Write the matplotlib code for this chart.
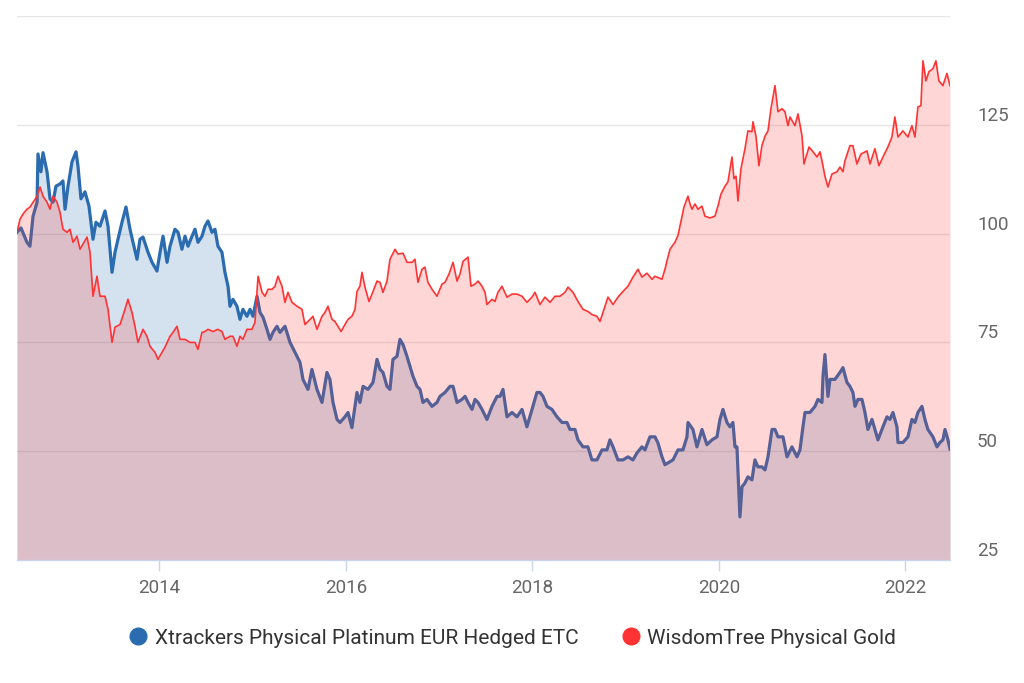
import matplotlib
matplotlib.use("Agg")
import matplotlib.pyplot as plt
from matplotlib.lines import Line2D
from matplotlib.transforms import ScaledTranslation, blended_transform_factory

plt.rcParams['font.family'] = ['Roboto', 'DejaVu Sans']

series_names = ["Xtrackers Physical Platinum EUR Hedged ETC", "WisdomTree Physical Gold"]

plat_dates = [2012.474, 2012.517, 2012.581, 2012.613, 2012.646, 2012.689, 2012.699, 2012.731, 2012.753, 2012.796,
              2012.828, 2012.860, 2012.892, 2012.935, 2012.967, 2012.989, 2013.021, 2013.064, 2013.107, 2013.128,
              2013.160, 2013.203, 2013.246, 2013.289, 2013.321, 2013.364, 2013.418, 2013.450, 2013.493, 2013.525,
              2013.557, 2013.600, 2013.643, 2013.686, 2013.718, 2013.761, 2013.793, 2013.825, 2013.879, 2013.922,
              2013.975, 2014.008, 2014.040, 2014.083, 2014.115, 2014.168, 2014.201, 2014.243, 2014.276, 2014.308,
              2014.351, 2014.383, 2014.415, 2014.458, 2014.490, 2014.522, 2014.565, 2014.597, 2014.629, 2014.672,
              2014.704, 2014.737, 2014.758, 2014.790, 2014.833, 2014.865, 2014.897, 2014.940, 2014.973, 2015.005,
              2015.048, 2015.080, 2015.112, 2015.155, 2015.187, 2015.219, 2015.262, 2015.294, 2015.348, 2015.402,
              2015.455, 2015.509, 2015.541, 2015.595, 2015.637, 2015.691, 2015.745, 2015.798, 2015.830, 2015.863,
              2015.906, 2015.938, 2015.991, 2016.024, 2016.066, 2016.120, 2016.152, 2016.185, 2016.238, 2016.292,
              2016.335, 2016.367, 2016.399, 2016.442, 2016.474, 2016.506, 2016.549, 2016.581, 2016.614, 2016.656,
              2016.689, 2016.721, 2016.764, 2016.796, 2016.828, 2016.871, 2016.925, 2016.978, 2017.010, 2017.064,
              2017.118, 2017.150, 2017.193, 2017.246, 2017.279, 2017.311, 2017.354, 2017.386, 2017.418, 2017.461,
              2017.514, 2017.568, 2017.622, 2017.654, 2017.686, 2017.729, 2017.783, 2017.836, 2017.890, 2017.943,
              2017.997, 2018.050, 2018.083, 2018.115, 2018.158, 2018.211, 2018.265, 2018.319, 2018.372, 2018.404,
              2018.458, 2018.490, 2018.544, 2018.597, 2018.640, 2018.694, 2018.748, 2018.801, 2018.833, 2018.866,
              2018.919, 2018.973, 2019.026, 2019.080, 2019.123, 2019.176, 2019.209, 2019.262, 2019.316, 2019.348,
              2019.391, 2019.423, 2019.477, 2019.509, 2019.563, 2019.616, 2019.659, 2019.670, 2019.723, 2019.766,
              2019.820, 2019.873, 2019.927, 2019.981, 2020.013, 2020.045, 2020.088, 2020.120, 2020.152, 2020.174,
              2020.195, 2020.227, 2020.249, 2020.281, 2020.313, 2020.356, 2020.388, 2020.420, 2020.463, 2020.496,
              2020.528, 2020.571, 2020.603, 2020.635, 2020.689, 2020.732, 2020.785, 2020.839, 2020.871, 2020.903,
              2020.925, 2020.978, 2021.032, 2021.064, 2021.107, 2021.118, 2021.139, 2021.171, 2021.193, 2021.246,
              2021.300, 2021.332, 2021.375, 2021.407, 2021.439, 2021.461, 2021.493, 2021.536, 2021.568, 2021.600,
              2021.643, 2021.675, 2021.707, 2021.761, 2021.804, 2021.836, 2021.868, 2021.911, 2021.922, 2021.975,
              2022.029, 2022.072, 2022.104, 2022.136, 2022.179, 2022.211, 2022.243, 2022.297, 2022.340, 2022.372,
              2022.404, 2022.426, 2022.458, 2022.480]
plat_values = [100.3, 101.3, 98.0, 97.1, 104.0, 107.2, 118.3, 114.2, 118.6, 114.2,
               108.0, 107.2, 110.9, 111.4, 112.1, 105.6, 110.9, 116.5, 118.8, 115.5,
               108.0, 109.6, 106.3, 98.7, 102.6, 101.7, 105.2, 101.7, 91.1, 95.7,
               98.7, 102.6, 106.1, 101.0, 98.0, 94.1, 98.7, 99.2, 95.7, 93.4,
               91.4, 95.7, 99.4, 93.4, 97.1, 101.0, 100.3, 96.4, 99.4, 97.1,
               99.4, 101.0, 98.0, 99.4, 101.7, 102.9, 100.3, 101.0, 97.1, 95.7,
               91.1, 87.9, 83.3, 84.9, 83.3, 80.3, 82.6, 81.0, 82.6, 81.0,
               85.6, 81.9, 80.8, 78.0, 75.7, 77.3, 78.7, 77.3, 78.7, 75.0,
               72.7, 70.4, 66.5, 64.2, 68.8, 64.2, 61.2, 68.1, 66.5, 61.2,
               57.3, 56.6, 57.9, 58.9, 55.4, 63.5, 61.2, 64.9, 64.2, 65.8,
               71.1, 68.8, 68.1, 64.9, 64.2, 71.1, 71.8, 75.7, 74.5, 71.8,
               69.5, 67.2, 64.9, 64.2, 61.2, 61.9, 60.3, 61.2, 62.6, 63.5,
               64.9, 64.9, 61.2, 61.9, 62.6, 61.2, 59.6, 61.9, 61.2, 59.6,
               57.3, 60.3, 62.6, 62.6, 64.2, 57.9, 58.9, 57.9, 59.6, 55.6,
               59.6, 63.5, 63.5, 62.6, 60.3, 59.6, 57.9, 56.6, 56.6, 55.0,
               55.0, 52.6, 51.0, 51.0, 48.0, 48.0, 50.3, 50.3, 52.6, 51.0,
               48.0, 48.0, 48.7, 48.0, 49.6, 51.0, 50.3, 53.3, 53.3, 51.9,
               48.7, 46.9, 47.6, 48.0, 50.3, 50.3, 53.3, 56.6, 55.0, 51.0,
               55.0, 51.5, 52.6, 53.3, 57.3, 59.6, 56.6, 55.6, 56.6, 51.0,
               51.0, 34.9, 41.8, 42.7, 44.1, 43.4, 48.0, 46.4, 46.4, 45.7,
               48.7, 55.0, 55.0, 53.3, 53.3, 48.7, 51.0, 48.7, 50.3, 55.6,
               58.9, 58.9, 60.3, 61.9, 61.2, 67.2, 72.2, 62.6, 66.5, 66.5,
               68.1, 69.2, 65.8, 64.9, 63.5, 60.3, 61.9, 61.9, 58.9, 55.0,
               57.3, 55.0, 52.6, 55.6, 57.9, 57.3, 58.9, 55.6, 52.0, 52.0,
               53.3, 57.3, 56.6, 58.9, 60.3, 57.3, 55.0, 53.3, 51.0, 52.0,
               52.6, 55.0, 52.6, 50.5]

gold_dates = [2012.474, 2012.506, 2012.538, 2012.581, 2012.613, 2012.646, 2012.689, 2012.721, 2012.753, 2012.796,
              2012.828, 2012.860, 2012.903, 2012.935, 2012.967, 2013.010, 2013.042, 2013.075, 2013.117, 2013.150,
              2013.182, 2013.225, 2013.257, 2013.289, 2013.332, 2013.364, 2013.418, 2013.450, 2013.493, 2013.525,
              2013.579, 2013.632, 2013.664, 2013.707, 2013.739, 2013.771, 2013.825, 2013.868, 2013.900, 2013.954,
              2013.986, 2014.029, 2014.061, 2014.115, 2014.147, 2014.190, 2014.222, 2014.276, 2014.329, 2014.383,
              2014.415, 2014.458, 2014.490, 2014.522, 2014.576, 2014.629, 2014.672, 2014.704, 2014.758, 2014.790,
              2014.833, 2014.865, 2014.897, 2014.940, 2014.994, 2015.026, 2015.059, 2015.102, 2015.134, 2015.166,
              2015.209, 2015.241, 2015.273, 2015.316, 2015.348, 2015.380, 2015.423, 2015.477, 2015.530, 2015.562,
              2015.616, 2015.648, 2015.691, 2015.745, 2015.777, 2015.809, 2015.852, 2015.884, 2015.916, 2015.949,
              2015.991, 2016.024, 2016.066, 2016.099, 2016.120, 2016.152, 2016.174, 2016.206, 2016.249, 2016.292,
              2016.335, 2016.367, 2016.399, 2016.442, 2016.474, 2016.528, 2016.560, 2016.614, 2016.656, 2016.710,
              2016.742, 2016.774, 2016.817, 2016.849, 2016.881, 2016.925, 2016.978, 2017.032, 2017.064, 2017.107,
              2017.150, 2017.193, 2017.225, 2017.257, 2017.311, 2017.343, 2017.386, 2017.418, 2017.461, 2017.493,
              2017.514, 2017.568, 2017.600, 2017.632, 2017.675, 2017.729, 2017.783, 2017.836, 2017.890, 2017.943,
              2017.997, 2018.029, 2018.083, 2018.136, 2018.190, 2018.243, 2018.297, 2018.351, 2018.383, 2018.437,
              2018.490, 2018.544, 2018.597, 2018.640, 2018.694, 2018.726, 2018.758, 2018.812, 2018.866, 2018.919,
              2018.973, 2019.026, 2019.080, 2019.134, 2019.176, 2019.230, 2019.284, 2019.316, 2019.391, 2019.423,
              2019.455, 2019.477, 2019.530, 2019.563, 2019.606, 2019.627, 2019.670, 2019.692, 2019.713, 2019.745,
              2019.777, 2019.820, 2019.852, 2019.906, 2019.959, 2019.991, 2020.024, 2020.067, 2020.099, 2020.142,
              2020.163, 2020.185, 2020.206, 2020.238, 2020.281, 2020.313, 2020.356, 2020.367, 2020.399, 2020.431,
              2020.463, 2020.496, 2020.528, 2020.560, 2020.603, 2020.635, 2020.678, 2020.710, 2020.742, 2020.764,
              2020.817, 2020.850, 2020.893, 2020.914, 2020.968, 2021.011, 2021.054, 2021.086, 2021.107, 2021.139,
              2021.171, 2021.214, 2021.268, 2021.300, 2021.332, 2021.353, 2021.407, 2021.439, 2021.482, 2021.525,
              2021.590, 2021.622, 2021.675, 2021.718, 2021.761, 2021.814, 2021.857, 2021.889, 2021.922, 2021.975,
              2022.029, 2022.072, 2022.104, 2022.136, 2022.168, 2022.190, 2022.222, 2022.254, 2022.297, 2022.329,
              2022.361, 2022.404, 2022.447, 2022.480]
gold_values = [100.3, 103.3, 104.5, 105.6, 106.1, 107.2, 108.6, 110.7, 108.6, 107.2,
               105.6, 108.6, 107.2, 104.9, 101.0, 100.3, 101.0, 98.0, 99.4, 96.4,
               97.6, 99.2, 95.7, 85.6, 90.2, 85.6, 85.6, 82.6, 75.0, 78.5,
               79.1, 82.6, 84.9, 81.9, 78.7, 75.0, 78.0, 76.4, 74.1, 72.7,
               71.1, 72.7, 73.9, 76.4, 77.3, 78.7, 75.7, 75.7, 75.0, 75.0,
               73.4, 77.3, 77.5, 78.0, 77.5, 78.0, 77.5, 75.7, 76.4, 76.4,
               74.1, 76.4, 75.7, 78.0, 78.0, 79.6, 90.2, 86.5, 85.6, 87.2,
               87.2, 87.9, 90.2, 87.9, 84.2, 86.5, 84.2, 83.3, 82.6, 79.1,
               80.3, 81.0, 78.0, 81.0, 81.9, 83.3, 80.3, 79.8, 78.7, 77.5,
               79.1, 80.3, 81.0, 82.6, 86.7, 87.9, 91.1, 87.7, 84.4, 86.7,
               89.1, 88.8, 86.5, 89.1, 94.1, 96.4, 95.3, 95.5, 93.4, 93.4,
               94.1, 88.8, 91.8, 92.3, 88.8, 87.2, 85.6, 88.4, 88.8, 90.7,
               93.4, 89.1, 90.7, 93.6, 94.6, 87.9, 88.4, 89.1, 87.9, 86.5,
               83.7, 84.9, 84.4, 86.5, 87.9, 85.4, 86.1, 86.1, 85.6, 84.2,
               85.4, 86.5, 83.7, 85.4, 84.2, 85.6, 85.6, 86.5, 87.7, 86.5,
               84.4, 82.6, 82.1, 81.4, 81.0, 79.8, 81.9, 85.4, 83.7, 85.4,
               86.7, 87.9, 90.0, 91.8, 90.0, 90.9, 89.5, 90.2, 89.5, 91.8,
               94.6, 96.4, 98.0, 99.6, 104.0, 106.1, 108.6, 106.8, 105.6, 106.8,
               105.6, 106.3, 104.0, 103.6, 104.0, 106.3, 109.1, 110.9, 111.9, 117.6,
               112.6, 113.2, 107.5, 114.9, 119.5, 123.6, 123.4, 125.7, 122.4, 115.6,
               120.2, 122.4, 123.6, 128.7, 134.0, 128.0, 128.7, 128.0, 124.8, 126.8,
               124.8, 127.5, 122.4, 116.0, 119.9, 118.8, 117.6, 118.8, 116.7, 113.2,
               110.7, 113.7, 114.2, 115.3, 114.2, 116.7, 120.2, 120.2, 116.0, 118.3,
               119.0, 116.0, 119.5, 115.6, 117.6, 119.9, 122.2, 126.8, 122.2, 123.6,
               122.2, 124.8, 122.2, 129.1, 129.4, 139.7, 135.1, 137.2, 137.9, 139.7,
               135.1, 134.0, 136.8, 134.0]

year_ticks = [2014, 2016, 2018, 2020, 2022]
value_ticks = [25, 50, 75, 100, 125]
grid_values = [50, 75, 100, 125, 150]

plat_color = "#2b6cb0"
gold_color = "#ff3333"

fig = plt.figure(figsize=(10.24, 6.83), dpi=100)
ax = fig.add_axes([17 / 1024, 1 - 560 / 683, 933 / 1024, 544 / 683])

for g in grid_values:
    ax.axhline(g, color="#e6e6e6", lw=1.0, zorder=0)

ax.fill_between(plat_dates, plat_values, 0, color=plat_color, alpha=0.2, lw=0, zorder=1)
ax.plot(plat_dates, plat_values, color=plat_color, lw=2.3, zorder=2, solid_joinstyle="round")
ax.fill_between(gold_dates, gold_values, 0, color=gold_color, alpha=0.2, lw=0, zorder=3)
ax.plot(gold_dates, gold_values, color=gold_color, lw=1.2, zorder=4, solid_joinstyle="round")

ax.set_xlim(plat_dates[0], plat_dates[-1])
ax.set_ylim(25, 150)

for s in ["top", "left", "right"]:
    ax.spines[s].set_visible(False)
ax.spines["bottom"].set_color("#ccd6eb")
ax.spines["bottom"].set_linewidth(1.0)
ax.spines["bottom"].set_zorder(5)

ax.set_xticks(year_ticks)
ax.set_xticklabels([str(y) for y in year_ticks])
ax.tick_params(axis="x", colors="#ccd6eb", length=8, width=1, pad=6, labelcolor="#666666", labelsize=13.5)

# y-axis labels on the right, drawn as text at a fixed pixel column, slightly above gridlines
ax.set_yticks([])
ylab_tr = blended_transform_factory(fig.transFigure, ax.transData) + \
    ScaledTranslation(0, 9 / 100, fig.dpi_scale_trans)
for v in value_ticks:
    ax.text(977 / 1024, v, str(v), transform=ylab_tr, ha="left", va="center",
            fontsize=13.5, color="#666666", clip_on=False)

handles = [Line2D([], [], ls="none", marker="o", markersize=12, color=plat_color),
           Line2D([], [], ls="none", marker="o", markersize=12, color=gold_color)]
fig.legend(handles, series_names, loc="center", bbox_to_anchor=(0.5, 1 - 638 / 683),
           ncol=2, frameon=False, fontsize=15, labelcolor="#333333",
           handletextpad=0.3, columnspacing=2.0, handlelength=1.0)

fig.savefig("out.png", dpi=100)
